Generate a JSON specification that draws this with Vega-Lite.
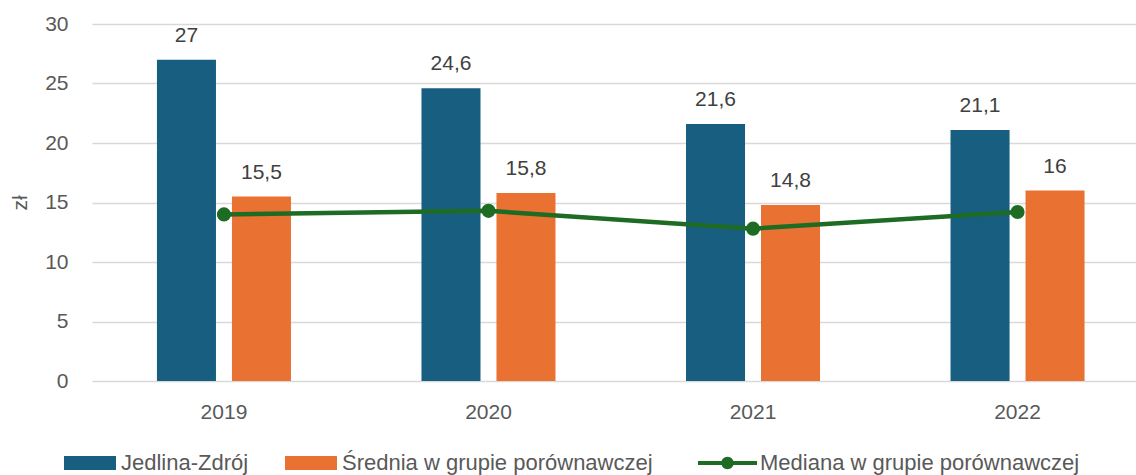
{
  "$schema": "https://vega.github.io/schema/vega-lite/v6.json",
  "width": 1044,
  "height": 357,
  "autosize": "none",
  "padding": {"left": 92, "top": 24, "right": 0, "bottom": 94},
  "config": {
    "view": {"stroke": null},
    "font": "Liberation Sans",
    "locale": {"number": {"decimal": ",", "thousands": " ", "grouping": [3], "currency": ["", " zł"]}}
  },
  "data": {
    "values": [
      {"year": "2019", "series": "Jedlina-Zdrój", "value": 27},
      {"year": "2019", "series": "Średnia w grupie porównawczej", "value": 15.5},
      {"year": "2019", "series": "Mediana w grupie porównawczej", "value": 14.0},
      {"year": "2020", "series": "Jedlina-Zdrój", "value": 24.6},
      {"year": "2020", "series": "Średnia w grupie porównawczej", "value": 15.8},
      {"year": "2020", "series": "Mediana w grupie porównawczej", "value": 14.3},
      {"year": "2021", "series": "Jedlina-Zdrój", "value": 21.6},
      {"year": "2021", "series": "Średnia w grupie porównawczej", "value": 14.8},
      {"year": "2021", "series": "Mediana w grupie porównawczej", "value": 12.8},
      {"year": "2022", "series": "Jedlina-Zdrój", "value": 21.1},
      {"year": "2022", "series": "Średnia w grupie porównawczej", "value": 16.0},
      {"year": "2022", "series": "Mediana w grupie porównawczej", "value": 14.2}
    ]
  },
  "encoding": {
    "x": {
      "field": "year", "type": "nominal", "title": null,
      "scale": {"paddingInner": 0.4934, "paddingOuter": 0.22, "align": 0.558},
      "axis": {"labelAngle": 0, "domain": false, "ticks": false, "labelFontSize": 21, "labelColor": "#595959", "labelPadding": 20}
    },
    "y": {
      "field": "value", "type": "quantitative",
      "scale": {"domain": [0, 30]},
      "axis": {
        "title": "zł", "values": [0, 5, 10, 15, 20, 25, 30],
        "grid": true, "gridColor": "#d9d9d9", "gridWidth": 1.5,
        "domain": false, "ticks": false,
        "labelFontSize": 21, "labelColor": "#595959", "labelPadding": 24,
        "titleFontSize": 21, "titleColor": "#595959", "titleFontWeight": "normal", "titlePadding": 14
      }
    }
  },
  "layer": [
    {
      "transform": [{"filter": "datum.series !== 'Mediana w grupie porównawczej'"}],
      "layer": [
        {
          "mark": {"type": "bar"},
          "encoding": {
            "xOffset": {"field": "series", "sort": ["Jedlina-Zdrój", "Średnia w grupie porównawczej"], "scale": {"paddingInner": 0.213, "paddingOuter": 0}},
            "color": {
              "field": "series", "type": "nominal",
              "scale": {"domain": ["Jedlina-Zdrój", "Średnia w grupie porównawczej"], "range": ["#175e80", "#e97132"]},
              "legend": {
                "title": null, "orient": "none", "legendX": -28, "legendY": 413,
                "direction": "horizontal", "symbolType": "M-1,-0.27H1V0.27H-1Z", "symbolSize": 2704,
                "symbolStrokeWidth": 0, "labelFontSize": 22, "labelColor": "#595959", "labelLimit": 0,
                "labelOffset": 5, "columnPadding": 36, "padding": 0
              }
            }
          }
        },
        {
          "mark": {"type": "text", "dy": -18, "baseline": "alphabetic", "fontSize": 21, "color": "#404040"},
          "encoding": {
            "xOffset": {"field": "series", "sort": ["Jedlina-Zdrój", "Średnia w grupie porównawczej"], "scale": {"paddingInner": 0.213, "paddingOuter": 0}},
            "text": {"field": "value", "type": "quantitative", "format": ".3~g"}
          }
        }
      ]
    },
    {
      "transform": [{"filter": "datum.series === 'Mediana w grupie porównawczej'"}],
      "mark": {"type": "line", "strokeWidth": 4.5, "point": {"filled": true, "size": 200}},
      "encoding": {
        "color": {
          "field": "series", "type": "nominal",
          "scale": {"domain": ["Mediana w grupie porównawczej"], "range": ["#1e6b24"]},
          "legend": {
            "title": null, "orient": "none", "legendX": 606, "legendY": 409.5,
            "symbolType": "M-1,-0.07H1V0.07H-1Z M-0.21,0A0.21,0.21 0 1,1 0.21,0A0.21,0.21 0 1,1 -0.21,0Z",
            "symbolSize": 3481, "symbolStrokeWidth": 0, "symbolFillColor": "#1e6b24",
            "labelFontSize": 22, "labelColor": "#595959", "labelLimit": 0, "labelOffset": 3, "padding": 0
          }
        }
      }
    }
  ],
  "resolve": {"scale": {"color": "independent"}}
}
